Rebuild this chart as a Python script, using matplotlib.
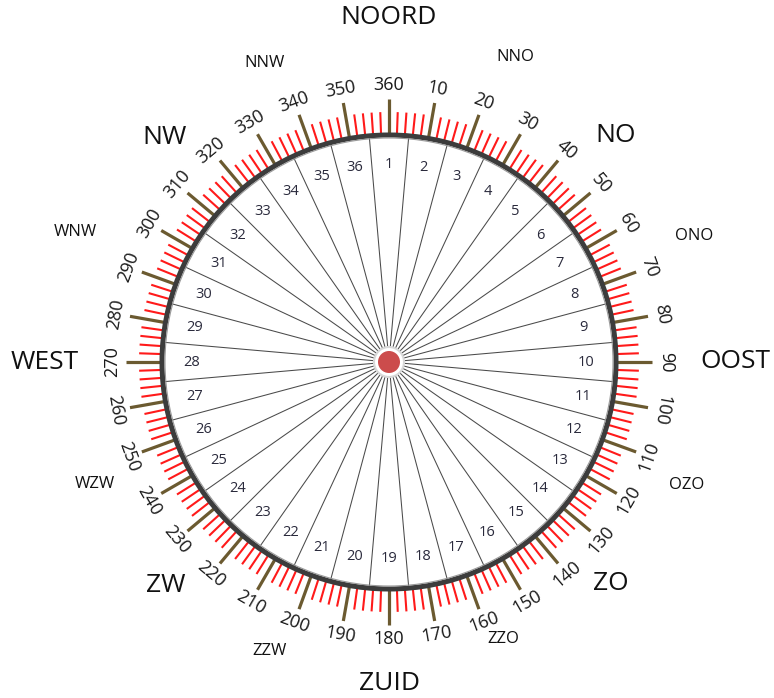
import numpy as np
import matplotlib
matplotlib.use('Agg')
import matplotlib.pyplot as plt
from matplotlib.patches import Circle

plt.rcParams['font.family'] = ['Open Sans', 'DejaVu Sans']

# data
sector_numbers = [1, 2, 3, 4, 5, 6, 7, 8, 9, 10, 11, 12, 13, 14, 15, 16, 17, 18,
                  19, 20, 21, 22, 23, 24, 25, 26, 27, 28, 29, 30, 31, 32, 33, 34, 35, 36]
degree_labels = [360, 10, 20, 30, 40, 50, 60, 70, 80, 90, 100, 110, 120, 130, 140, 150, 160, 170,
                 180, 190, 200, 210, 220, 230, 240, 250, 260, 270, 280, 290, 300, 310, 320, 330, 340, 350]
wind_names = ['NOORD', 'NNO', 'NO', 'ONO', 'OOST', 'OZO', 'ZO', 'ZZO',
              'ZUID', 'ZZW', 'ZW', 'WZW', 'WEST', 'WNW', 'NW', 'NNW']
wind_angles = [0, 22.5, 45, 67.5, 90, 112.5, 135, 157.5,
               180, 202.5, 225, 247.5, 270, 292.5, 315, 337.5]

# layout
W, H, DPI = 774, 698, 100
cx, cy = 389, 362
R = 227
name_r = [344, 330, 320, 330, 346, 322, 313, 300, 321, 313, 316, 318, 344, 339, 317, 324]


def pol(r, ang):
    a = np.radians(ang)
    return r * np.sin(a), r * np.cos(a)


fig = plt.figure(figsize=(W / DPI, H / DPI), dpi=DPI)
ax = fig.add_axes([0, 0, 1, 1])
ax.set_xlim(-cx, W - cx)
ax.set_ylim(-(H - cy), cy)
ax.set_aspect('equal')
ax.axis('off')

# sector lines
for i in range(len(sector_numbers)):
    ang = i * 360 / len(sector_numbers) + 5
    x, y = pol(R, ang)
    ax.plot([0, x], [0, y], color='#4a4a4a', lw=0.75, zorder=2)

# sector numbers
for i, n in enumerate(sector_numbers):
    x, y = pol(197, i * 10)
    ax.text(x, y, str(n), ha='center', va='center', fontsize=10.5,
            color='#2a2a3c', zorder=3)

# ticks every 2 degrees, longer brown ones every 10
for d in range(0, 360, 2):
    x0, y0 = pol(R + 1, d)
    if d % 10 == 0:
        x1, y1 = pol(R + 36, d)
        ax.plot([x0, x1], [y0, y1], color='#6b5a30', lw=2.3, zorder=4,
                solid_capstyle='butt')
    else:
        x1, y1 = pol(R + 23, d)
        ax.plot([x0, x1], [y0, y1], color='#ff1a1a', lw=1.5, zorder=4,
                solid_capstyle='butt')

# outer ring
ax.add_patch(Circle((0, 0), R, fill=False, edgecolor='#3c3c3c', lw=3.6, zorder=5))
ax.add_patch(Circle((0, 0), R - 3, fill=False, edgecolor='#9a9a9a', lw=0.8, zorder=5))

# degree labels
for lab in degree_labels:
    d = lab % 360
    if d <= 100:
        rot = -d
    elif d <= 260:
        rot = 180 - d
    else:
        rot = 360 - d
    x, y = pol(277, d)
    ax.text(x, y, str(lab), ha='center', va='center', rotation=rot,
            rotation_mode='anchor', fontsize=13, color='#1a1a1a')

# wind directions
for name, ang, r in zip(wind_names, wind_angles, name_r):
    x, y = pol(r, ang)
    fs = 19 if ang % 45 == 0 else 12
    ax.text(x, y, name, ha='center', va='center', fontsize=fs, color='#111111')

# centre dot
ax.add_patch(Circle((0, 0), 15, facecolor='white', edgecolor='#d8d8d8', lw=1.5, zorder=6))
ax.add_patch(Circle((0, 0), 11, facecolor='#cc4c4c', edgecolor='none', zorder=7))

fig.savefig('out.png', dpi=DPI, facecolor='white')
